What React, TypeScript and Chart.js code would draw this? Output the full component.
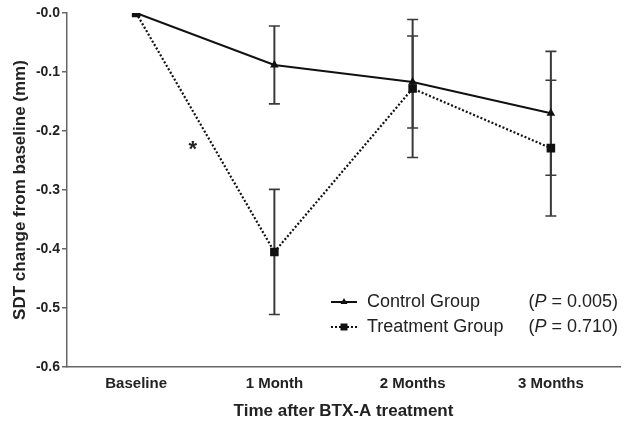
import React, { useEffect, useRef } from "react";
import { Chart, registerables } from "chart.js";

Chart.register(...registerables);

const categories = ["Baseline", "1 Month", "2 Months", "3 Months"];
const controlMeans = [0, -0.088, -0.117, -0.17];
const controlErr = [0, 0.066, 0.078, 0.105];
const treatmentMeans = [0, -0.405, -0.128, -0.229];
const treatmentErr = [0, 0.106, 0.117, 0.115];
const seriesNames = ["Control Group", "Treatment Group"];
const pValues = ["0.005", "0.710"];
const yTicks = { min: -0.6, max: 0, step: 0.1 };
const asterisk = { label: "*", xIndex: 0.41, y: -0.222 };

const FONT = "'Liberation Sans', Arial, sans-serif";

export default function App() {
  const ref = useRef<HTMLCanvasElement>(null);
  useEffect(() => {
    const errs = [controlErr, treatmentErr];
    const errorBars = {
      id: "errorBars",
      beforeDatasetsDraw(chart: any) {
        const ctx = chart.ctx;
        const y = chart.scales.y;
        ctx.save();
        ctx.strokeStyle = "#3a3a3a";
        ctx.lineWidth = 2;
        chart.data.datasets.forEach((ds: any, di: number) => {
          const meta = chart.getDatasetMeta(di);
          meta.data.forEach((pt: any, i: number) => {
            const e = errs[di][i];
            if (!e) return;
            const v = ds.data[i];
            const yt = y.getPixelForValue(v + e);
            const yb = y.getPixelForValue(v - e);
            ctx.beginPath();
            ctx.moveTo(pt.x, yt);
            ctx.lineTo(pt.x, yb);
            ctx.stroke();
            ctx.lineWidth = 1.6;
            ctx.beginPath();
            ctx.moveTo(pt.x - 5.5, yt);
            ctx.lineTo(pt.x + 5.5, yt);
            ctx.moveTo(pt.x - 5.5, yb);
            ctx.lineTo(pt.x + 5.5, yb);
            ctx.stroke();
            ctx.lineWidth = 2;
          });
        });
        ctx.restore();
      },
    };
    const extras = {
      id: "extras",
      afterDraw(chart: any) {
        const ctx = chart.ctx;
        const { x, y } = chart.scales;
        const area = chart.chartArea;
        ctx.save();
        // asterisk
        ctx.fillStyle = "#222";
        ctx.font = `bold 22px ${FONT}`;
        ctx.textAlign = "center";
        ctx.textBaseline = "alphabetic";
        const ax = x.getPixelForValue(asterisk.xIndex);
        const ay = y.getPixelForValue(asterisk.y);
        ctx.fillText(asterisk.label, ax, ay + 12);
        // legend
        const rowY = [area.bottom - 65, area.bottom - 40];
        const lineX0 = area.left + 264;
        const lineX1 = lineX0 + 26;
        const textX = lineX1 + 10;
        const pRight = area.right - 2;
        ctx.textBaseline = "middle";
        chart.data.datasets.forEach((ds: any, i: number) => {
          const yy = rowY[i];
          ctx.strokeStyle = "#111";
          ctx.lineWidth = 2;
          ctx.setLineDash(i === 1 ? [2, 2] : []);
          ctx.beginPath();
          ctx.moveTo(lineX0, yy);
          ctx.lineTo(lineX1, yy);
          ctx.stroke();
          ctx.setLineDash([]);
          const cx = (lineX0 + lineX1) / 2;
          ctx.fillStyle = "#111";
          if (i === 0) {
            ctx.beginPath();
            ctx.moveTo(cx, yy - 4);
            ctx.lineTo(cx + 3.5, yy + 2);
            ctx.lineTo(cx - 3.5, yy + 2);
            ctx.closePath();
            ctx.fill();
          } else {
            ctx.fillRect(cx - 3.5, yy - 3.5, 7, 7);
          }
          ctx.fillStyle = "#222";
          ctx.font = `18px ${FONT}`;
          ctx.textAlign = "left";
          ctx.fillText(ds.label, textX, yy);
          // P value
          const tail = ` = ${pValues[i]})`;
          const tailW = ctx.measureText(tail).width;
          ctx.font = `italic 18px ${FONT}`;
          const pW = ctx.measureText("P").width;
          ctx.font = `18px ${FONT}`;
          const openW = ctx.measureText("(").width;
          let sx = pRight - tailW - pW - openW;
          ctx.fillText("(", sx, yy);
          sx += openW;
          ctx.font = `italic 18px ${FONT}`;
          ctx.fillText("P", sx, yy);
          sx += pW;
          ctx.font = `18px ${FONT}`;
          ctx.fillText(tail, sx, yy);
        });
        ctx.restore();
      },
    };
    const chart = new Chart(ref.current!, {
      type: "line",
      data: {
        labels: categories,
        datasets: [
          {
            label: seriesNames[0],
            data: controlMeans,
            borderColor: "#111",
            backgroundColor: "#111",
            borderWidth: 2,
            pointStyle: "triangle",
            pointRadius: 3,
            tension: 0,
          },
          {
            label: seriesNames[1],
            data: treatmentMeans,
            borderColor: "#111",
            backgroundColor: "#111",
            borderWidth: 2.2,
            borderDash: [2, 2],
            pointStyle: "rect",
            pointRadius: 4.5,
            tension: 0,
          },
        ],
      },
      options: {
        responsive: false,
        animation: false,
        layout: { padding: { top: 13, right: 10, left: 0, bottom: 0 } },
        plugins: { legend: { display: false }, tooltip: { enabled: false } },
        scales: {
          x: {
            type: "category",
            offset: true,
            grid: { display: false, drawTicks: false },
            border: { color: "#666", width: 1.5 },
            ticks: { color: "#222", padding: 8, font: { family: FONT, size: 15, weight: "bold" } },
            title: {
              display: true,
              text: "Time after BTX-A treatment",
              color: "#222",
              font: { family: FONT, size: 17, weight: "bold" },
              padding: { top: 0, bottom: 1 },
            },
            afterFit(scale: any) {
              scale.height = 56;
            },
          },
          y: {
            min: yTicks.min,
            max: yTicks.max,
            grid: { display: true, drawOnChartArea: false, drawTicks: true, tickLength: 5, color: "#666", lineWidth: 1.5 },
            border: { color: "#666", width: 1.5 },
            ticks: {
              stepSize: yTicks.step,
              color: "#222",
              padding: 2,
              font: { family: FONT, size: 14, weight: "bold" },
              callback: (v: any) => "-" + Math.abs(Number(v)).toFixed(1),
            },
            title: {
              display: true,
              text: "SDT change from baseline (mm)",
              color: "#222",
              font: { family: FONT, size: 17, weight: "bold" },
              padding: { top: 10, bottom: 0 },
            },
            afterFit(scale: any) {
              scale.width = 67;
            },
          },
        },
      },
      plugins: [errorBars, extras],
    });
    return () => chart.destroy();
  }, []);
  return (
    <div style={{ position: "absolute", left: 0, top: 0, width: 630, height: 423, background: "#fff" }}>
      <canvas ref={ref} width={630} height={423} />
    </div>
  );
}
